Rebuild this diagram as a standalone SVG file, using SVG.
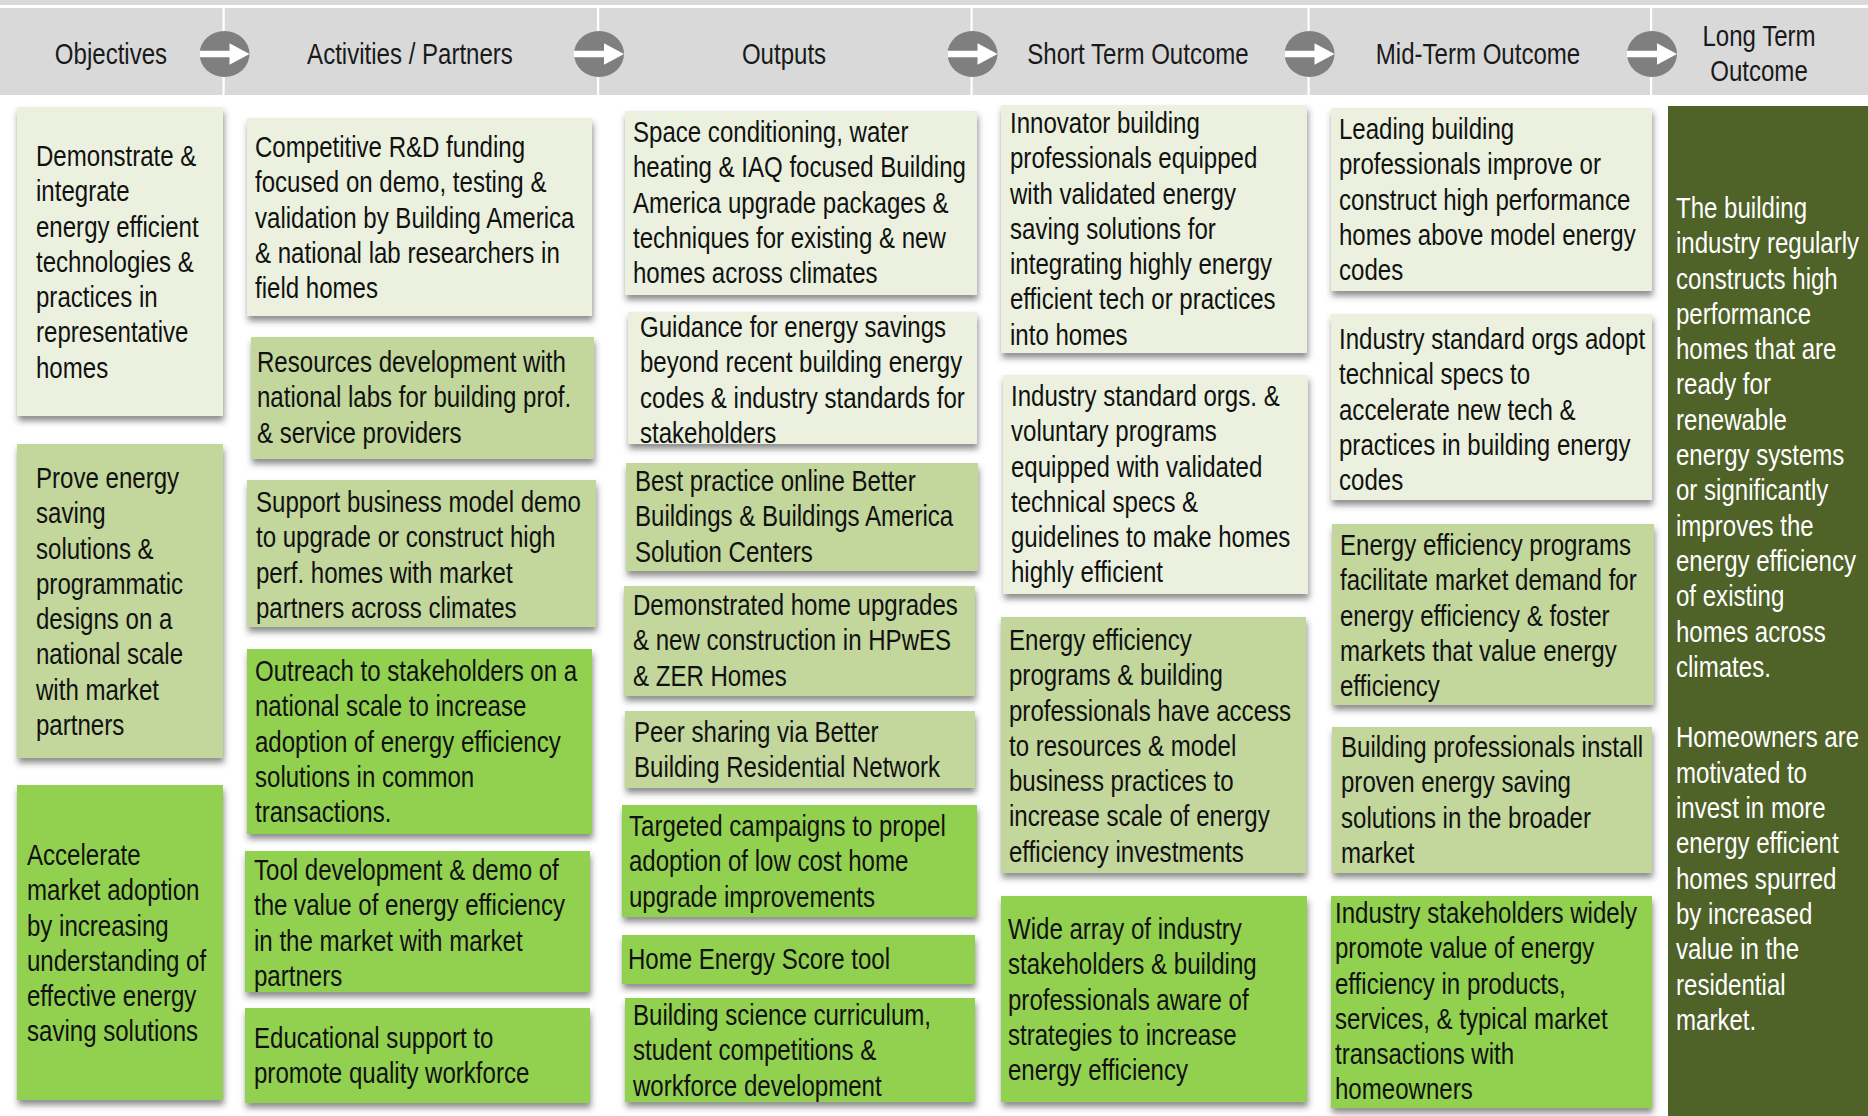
<svg xmlns="http://www.w3.org/2000/svg" width="1868" height="1116" viewBox="0 0 1868 1116">
<style>
text{font-family:"Liberation Sans",Arial,sans-serif;font-size:29px;fill:#111}
.hd{fill:#1a1a1a}
.wt{fill:#fff}
.l{fill:#ebf1de}
.m{fill:#c3d69b}
.b{fill:#92d050}
.dk{fill:#4f6228}
.bx{filter:url(#sh)}
.cir{fill:#7f7f7f}
.arr{fill:#fff}
</style>
<defs>
<filter id="sh" x="-10%" y="-10%" width="125%" height="130%">
<feDropShadow dx="1" dy="5" stdDeviation="3" flood-color="#333" flood-opacity="0.55"/>
</filter>
</defs>
<rect width="1868" height="1116" fill="#fff"/>
<g id="header">
<rect x="0" y="0" width="1868" height="5" fill="#d9d9d9"/>
<rect x="0" y="8" width="1868" height="87" fill="#d9d9d9"/>
<g fill="#fff">
<rect x="222.5" y="8" width="2.2" height="87"/>
<rect x="597" y="8" width="2.2" height="87"/>
<rect x="970.5" y="8" width="2.2" height="87"/>
<rect x="1307.5" y="8" width="2.2" height="87"/>
<rect x="1650" y="8" width="2.2" height="87"/>
</g>
<text class="hd" text-anchor="middle" transform="translate(111 64) scale(0.83 1)">Objectives</text>
<text class="hd" text-anchor="middle" transform="translate(410 64) scale(0.83 1)">Activities / Partners</text>
<text class="hd" text-anchor="middle" transform="translate(784 64) scale(0.83 1)">Outputs</text>
<text class="hd" text-anchor="middle" transform="translate(1138 64) scale(0.83 1)">Short Term Outcome</text>
<text class="hd" text-anchor="middle" transform="translate(1478 64) scale(0.83 1)">Mid-Term Outcome</text>
<text class="hd" text-anchor="middle" transform="translate(1759 46) scale(0.83 1)"><tspan x="0" y="0">Long Term</tspan><tspan x="0" dy="35">Outcome</tspan></text>
</g>
<g id="connectors">
<g transform="translate(224.5 54)"><ellipse class="cir" rx="25" ry="23"/><polygon class="arr" points="-25,-3.2 5,-3.2 5,-10.7 25,0 5,10.7 5,3.2 -25,3.2"/></g>
<g transform="translate(599 54)"><ellipse class="cir" rx="25" ry="23"/><polygon class="arr" points="-25,-3.2 5,-3.2 5,-10.7 25,0 5,10.7 5,3.2 -25,3.2"/></g>
<g transform="translate(972.5 54)"><ellipse class="cir" rx="25" ry="23"/><polygon class="arr" points="-25,-3.2 5,-3.2 5,-10.7 25,0 5,10.7 5,3.2 -25,3.2"/></g>
<g transform="translate(1309.5 54)"><ellipse class="cir" rx="25" ry="23"/><polygon class="arr" points="-25,-3.2 5,-3.2 5,-10.7 25,0 5,10.7 5,3.2 -25,3.2"/></g>
<g transform="translate(1652 54)"><ellipse class="cir" rx="25" ry="23"/><polygon class="arr" points="-25,-3.2 5,-3.2 5,-10.7 25,0 5,10.7 5,3.2 -25,3.2"/></g>
</g>

<g id="obj1"><rect class="l bx" x="17" y="107" width="206" height="309"/>
<text transform="translate(36 166) scale(0.83 1)"><tspan x="0" y="0">Demonstrate &amp;</tspan><tspan x="0" dy="35.3">integrate</tspan><tspan x="0" dy="35.3">energy efficient</tspan><tspan x="0" dy="35.3">technologies &amp;</tspan><tspan x="0" dy="35.3">practices in</tspan><tspan x="0" dy="35.3">representative</tspan><tspan x="0" dy="35.3">homes</tspan></text></g>
<g id="obj2"><rect class="m bx" x="17" y="444" width="206" height="314"/>
<text transform="translate(36 488) scale(0.83 1)"><tspan x="0" y="0">Prove energy</tspan><tspan x="0" dy="35.3">saving</tspan><tspan x="0" dy="35.3">solutions &amp;</tspan><tspan x="0" dy="35.3">programmatic</tspan><tspan x="0" dy="35.3">designs on a</tspan><tspan x="0" dy="35.3">national scale</tspan><tspan x="0" dy="35.3">with market</tspan><tspan x="0" dy="35.3">partners</tspan></text></g>
<g id="obj3"><rect class="b bx" x="17" y="785" width="206" height="315"/>
<text transform="translate(27 865) scale(0.83 1)"><tspan x="0" y="0">Accelerate</tspan><tspan x="0" dy="35.3">market adoption</tspan><tspan x="0" dy="35.3">by increasing</tspan><tspan x="0" dy="35.3">understanding of</tspan><tspan x="0" dy="35.3">effective energy</tspan><tspan x="0" dy="35.3">saving solutions</tspan></text></g>

<g id="act1"><rect class="l bx" x="247" y="118" width="345" height="198"/>
<text transform="translate(255 157) scale(0.83 1)"><tspan x="0" y="0">Competitive R&amp;D funding</tspan><tspan x="0" dy="35.3">focused on demo, testing &amp;</tspan><tspan x="0" dy="35.3">validation by Building America</tspan><tspan x="0" dy="35.3">&amp; national lab researchers in</tspan><tspan x="0" dy="35.3">field homes</tspan></text></g>
<g id="act2"><rect class="m bx" x="251" y="337" width="343" height="122"/>
<text transform="translate(257 372) scale(0.83 1)"><tspan x="0" y="0">Resources development with</tspan><tspan x="0" dy="35.3">national labs for building prof.</tspan><tspan x="0" dy="35.3">&amp; service providers</tspan></text></g>
<g id="act3"><rect class="m bx" x="247" y="480" width="349" height="147"/>
<text transform="translate(256 512) scale(0.83 1)"><tspan x="0" y="0">Support business model demo</tspan><tspan x="0" dy="35.3">to upgrade or construct high</tspan><tspan x="0" dy="35.3">perf. homes with market</tspan><tspan x="0" dy="35.3">partners across climates</tspan></text></g>
<g id="act4"><rect class="b bx" x="247" y="649" width="345" height="185"/>
<text transform="translate(255 681) scale(0.83 1)"><tspan x="0" y="0">Outreach to stakeholders on a</tspan><tspan x="0" dy="35.3">national scale to increase</tspan><tspan x="0" dy="35.3">adoption of energy efficiency</tspan><tspan x="0" dy="35.3">solutions in common</tspan><tspan x="0" dy="35.3">transactions.</tspan></text></g>
<g id="act5"><rect class="b bx" x="245" y="851" width="345" height="141"/>
<text transform="translate(254 880) scale(0.83 1)"><tspan x="0" y="0">Tool development &amp; demo of</tspan><tspan x="0" dy="35.3">the value of energy efficiency</tspan><tspan x="0" dy="35.3">in the market with market</tspan><tspan x="0" dy="35.3">partners</tspan></text></g>
<g id="act6"><rect class="b bx" x="245" y="1008" width="345" height="95"/>
<text transform="translate(254 1048) scale(0.83 1)"><tspan x="0" y="0">Educational support to</tspan><tspan x="0" dy="35.3">promote quality workforce</tspan></text></g>

<g id="out1"><rect class="l bx" x="625" y="111" width="352" height="184"/>
<text transform="translate(633 142) scale(0.83 1)"><tspan x="0" y="0">Space conditioning, water</tspan><tspan x="0" dy="35.3">heating &amp; IAQ focused Building</tspan><tspan x="0" dy="35.3">America upgrade packages &amp;</tspan><tspan x="0" dy="35.3">techniques for existing &amp; new</tspan><tspan x="0" dy="35.3">homes across climates</tspan></text></g>
<g id="out2"><rect class="l bx" x="628" y="312" width="349" height="132"/>
<text transform="translate(640 337) scale(0.83 1)"><tspan x="0" y="0">Guidance for energy savings</tspan><tspan x="0" dy="35.3">beyond recent building energy</tspan><tspan x="0" dy="35.3">codes &amp; industry standards for</tspan><tspan x="0" dy="35.3">stakeholders</tspan></text></g>
<g id="out3"><rect class="m bx" x="626" y="463" width="352" height="108"/>
<text transform="translate(635 491) scale(0.83 1)"><tspan x="0" y="0">Best practice online Better</tspan><tspan x="0" dy="35.3">Buildings &amp; Buildings America</tspan><tspan x="0" dy="35.3">Solution Centers</tspan></text></g>
<g id="out4"><rect class="m bx" x="624" y="586" width="351" height="110"/>
<text transform="translate(633 615) scale(0.83 1)"><tspan x="0" y="0">Demonstrated home upgrades</tspan><tspan x="0" dy="35.3">&amp; new construction in HPwES</tspan><tspan x="0" dy="35.3">&amp; ZER Homes</tspan></text></g>
<g id="out5"><rect class="m bx" x="625" y="711" width="350" height="77"/>
<text transform="translate(634 742) scale(0.83 1)"><tspan x="0" y="0">Peer sharing via Better</tspan><tspan x="0" dy="35.3">Building Residential Network</tspan></text></g>
<g id="out6"><rect class="b bx" x="622" y="805" width="355" height="112"/>
<text transform="translate(629 836) scale(0.83 1)"><tspan x="0" y="0">Targeted campaigns to propel</tspan><tspan x="0" dy="35.3">adoption of low cost home</tspan><tspan x="0" dy="35.3">upgrade improvements</tspan></text></g>
<g id="out7"><rect class="b bx" x="622" y="935" width="353" height="49"/>
<text transform="translate(628 969) scale(0.83 1)">Home Energy Score tool</text></g>
<g id="out8"><rect class="b bx" x="625" y="998" width="350" height="104"/>
<text transform="translate(633 1025) scale(0.83 1)"><tspan x="0" y="0">Building science curriculum,</tspan><tspan x="0" dy="35.3">student competitions &amp;</tspan><tspan x="0" dy="35.3">workforce development</tspan></text></g>

<g id="st1"><rect class="l bx" x="1001" y="105" width="306" height="248"/>
<text transform="translate(1010 133) scale(0.83 1)"><tspan x="0" y="0">Innovator building</tspan><tspan x="0" dy="35.3">professionals equipped</tspan><tspan x="0" dy="35.3">with validated energy</tspan><tspan x="0" dy="35.3">saving solutions for</tspan><tspan x="0" dy="35.3">integrating highly energy</tspan><tspan x="0" dy="35.3">efficient tech or practices</tspan><tspan x="0" dy="35.3">into homes</tspan></text></g>
<g id="st2"><rect class="l bx" x="1003" y="375" width="305" height="219"/>
<text transform="translate(1011 406) scale(0.83 1)"><tspan x="0" y="0">Industry standard orgs. &amp;</tspan><tspan x="0" dy="35.3">voluntary programs</tspan><tspan x="0" dy="35.3">equipped with validated</tspan><tspan x="0" dy="35.3">technical specs &amp;</tspan><tspan x="0" dy="35.3">guidelines to make homes</tspan><tspan x="0" dy="35.3">highly efficient</tspan></text></g>
<g id="st3"><rect class="m bx" x="1001" y="617" width="305" height="256"/>
<text transform="translate(1009 650) scale(0.83 1)"><tspan x="0" y="0">Energy efficiency</tspan><tspan x="0" dy="35.3">programs &amp; building</tspan><tspan x="0" dy="35.3">professionals have access</tspan><tspan x="0" dy="35.3">to resources &amp; model</tspan><tspan x="0" dy="35.3">business practices to</tspan><tspan x="0" dy="35.3">increase scale of energy</tspan><tspan x="0" dy="35.3">efficiency investments</tspan></text></g>
<g id="st4"><rect class="b bx" x="1001" y="896" width="306" height="206"/>
<text transform="translate(1008 939) scale(0.83 1)"><tspan x="0" y="0">Wide array of industry</tspan><tspan x="0" dy="35.3">stakeholders &amp; building</tspan><tspan x="0" dy="35.3">professionals aware of</tspan><tspan x="0" dy="35.3">strategies to increase</tspan><tspan x="0" dy="35.3">energy efficiency</tspan></text></g>

<g id="mt1"><rect class="l bx" x="1331" y="108" width="321" height="183"/>
<text transform="translate(1339 139) scale(0.83 1)"><tspan x="0" y="0">Leading building</tspan><tspan x="0" dy="35.3">professionals improve or</tspan><tspan x="0" dy="35.3">construct high performance</tspan><tspan x="0" dy="35.3">homes above model energy</tspan><tspan x="0" dy="35.3">codes</tspan></text></g>
<g id="mt2"><rect class="l bx" x="1331" y="314" width="321" height="186"/>
<text transform="translate(1339 349) scale(0.83 1)"><tspan x="0" y="0">Industry standard orgs adopt</tspan><tspan x="0" dy="35.3">technical specs to</tspan><tspan x="0" dy="35.3">accelerate new tech &amp;</tspan><tspan x="0" dy="35.3">practices in building energy</tspan><tspan x="0" dy="35.3">codes</tspan></text></g>
<g id="mt3"><rect class="m bx" x="1332" y="524" width="322" height="181"/>
<text transform="translate(1340 555) scale(0.83 1)"><tspan x="0" y="0">Energy efficiency programs</tspan><tspan x="0" dy="35.3">facilitate market demand for</tspan><tspan x="0" dy="35.3">energy efficiency &amp; foster</tspan><tspan x="0" dy="35.3">markets that value energy</tspan><tspan x="0" dy="35.3">efficiency</tspan></text></g>
<g id="mt4"><rect class="m bx" x="1332" y="727" width="320" height="146"/>
<text transform="translate(1341 757) scale(0.83 1)"><tspan x="0" y="0">Building professionals install</tspan><tspan x="0" dy="35.3">proven energy saving</tspan><tspan x="0" dy="35.3">solutions in the broader</tspan><tspan x="0" dy="35.3">market</tspan></text></g>
<g id="mt5"><rect class="b bx" x="1331" y="896" width="321" height="212"/>
<text transform="translate(1335 923) scale(0.83 1)"><tspan x="0" y="0">Industry stakeholders widely</tspan><tspan x="0" dy="35.3">promote value of energy</tspan><tspan x="0" dy="35.3">efficiency in products,</tspan><tspan x="0" dy="35.3">services, &amp; typical market</tspan><tspan x="0" dy="35.3">transactions with</tspan><tspan x="0" dy="35.3">homeowners</tspan></text></g>

<g id="lt1"><rect class="dk" x="1668" y="106" width="200" height="1010"/>
<text class="wt" transform="translate(1676 218) scale(0.83 1)"><tspan x="0" y="0">The building</tspan><tspan x="0" dy="35.3">industry regularly</tspan><tspan x="0" dy="35.3">constructs high</tspan><tspan x="0" dy="35.3">performance</tspan><tspan x="0" dy="35.3">homes that are</tspan><tspan x="0" dy="35.3">ready for</tspan><tspan x="0" dy="35.3">renewable</tspan><tspan x="0" dy="35.3">energy systems</tspan><tspan x="0" dy="35.3">or significantly</tspan><tspan x="0" dy="35.3">improves the</tspan><tspan x="0" dy="35.3">energy efficiency</tspan><tspan x="0" dy="35.3">of existing</tspan><tspan x="0" dy="35.3">homes across</tspan><tspan x="0" dy="35.3">climates.</tspan><tspan x="0" dy="70.6">Homeowners are</tspan><tspan x="0" dy="35.3">motivated to</tspan><tspan x="0" dy="35.3">invest in more</tspan><tspan x="0" dy="35.3">energy efficient</tspan><tspan x="0" dy="35.3">homes spurred</tspan><tspan x="0" dy="35.3">by increased</tspan><tspan x="0" dy="35.3">value in the</tspan><tspan x="0" dy="35.3">residential</tspan><tspan x="0" dy="35.3">market.</tspan></text></g>
</svg>
